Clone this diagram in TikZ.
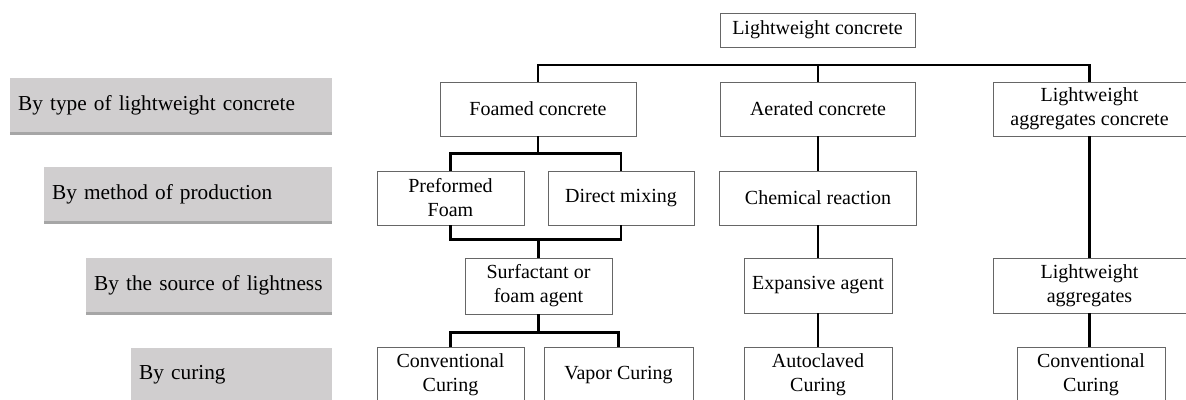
\documentclass[tikz,border=0pt]{standalone}
\usepackage{fontspec}
\setmainfont{Liberation Serif}
\usetikzlibrary{shadows}
\definecolor{labelgray}{RGB}{208,206,207}

\begin{document}
\begin{tikzpicture}[x=1pt,y=-1pt]
	\tikzset{box/.style={draw=black!60, line width=0.9pt, fill=white, align=center,
		inner sep=2pt, font=\fontsize{20}{24}\selectfont}}
	\tikzset{level/.style={fill=labelgray, anchor=north west, align=left, inner xsep=8pt,
		minimum height=54pt, text width=#1, font=\fontsize{21.3}{26}\selectfont,
		drop shadow={shadow xshift=0pt, shadow yshift=-3pt, fill=black, opacity=0.35}}}
	\tikzset{link/.style={line width=2.4pt, black}}
	\useasboundingbox (0,0) rectangle (1186,399);
	\clip (0,0) rectangle (1186,399);

	% classification levels
	\node[level=306pt] (bytype) at (10,78) {By type of lightweight concrete};
	\node[level=272pt] (bymethod) at (44,167) {By method of production};
	\node[level=230pt] (bysource) at (86,258) {By the source of lightness};
	\node[level=185pt] (bycuring) at (131,348) {By curing};

	% type
	\node[box, minimum width=195pt, minimum height=34pt] (lwc) at (817.5,30) {Lightweight concrete};
	\node[box, minimum width=196pt, minimum height=54pt] (foam) at (538,109) {Foamed concrete};
	\node[box, minimum width=195pt, minimum height=54pt] (aer) at (818,109) {Aerated concrete};
	\node[box, minimum width=193pt, minimum height=54pt] (lwac) at (1089.5,109) {Lightweight\\aggregates concrete};

	% production
	\node[box, minimum width=147pt, minimum height=54pt] (pre) at (450.5,198) {Preformed\\Foam};
	\node[box, minimum width=146pt, minimum height=54pt] (dir) at (621,198) {Direct mixing};
	\node[box, minimum width=197pt, minimum height=54pt] (chem) at (818,198) {Chemical reaction};

	% source of lightness
	\node[box, minimum width=147pt, minimum height=56pt] (surf) at (538.5,286) {Surfactant or\\foam agent};
	\node[box, minimum width=148pt, minimum height=55pt] (exp) at (818,285.5) {Expansive agent};
	\node[box, minimum width=193pt, minimum height=55pt] (lwa) at (1089.5,285.5) {Lightweight\\aggregates};

	% curing
	\node[box, minimum width=147pt, minimum height=56pt] (cc1) at (450.5,375) {Conventional\\Curing};
	\node[box, minimum width=149pt, minimum height=56pt] (vap) at (618.5,375) {Vapor Curing};
	\node[box, minimum width=148pt, minimum height=56pt] (auto) at (818,375) {Autoclaved\\Curing};
	\node[box, minimum width=148pt, minimum height=56pt] (cc2) at (1091,375) {Conventional\\Curing};

	% connectors
	\coordinate (bus) at (0,65);
	\draw[link] (foam.north) -- (foam.north |- bus) -| (lwac.north);
	\draw[link] (aer.north) -- (aer.north |- bus);

	\draw[link] (foam.south) -- ++(0,17) coordinate (s1);
	\draw[link] (pre.north) |- (s1) -| (dir.north);
	\draw[link] (surf.north) -- ++(0,-18) coordinate (j1);
	\draw[link] (pre.south) |- (j1) -| (dir.south);

	\draw[link] (surf.south) -- ++(0,18) coordinate (s2);
	\draw[link] (cc1.north) |- (s2) -| (vap.north);

	\draw[link] (aer.south) -- (chem.north);
	\draw[link] (chem.south) -- (exp.north);
	\draw[link] (exp.south) -- (auto.north);

	\draw[link] (lwac.south) -- (lwac.south |- lwa.north);
	\draw[link] (lwa.south) -- (lwa.south |- cc2.north);
\end{tikzpicture}
\end{document}
